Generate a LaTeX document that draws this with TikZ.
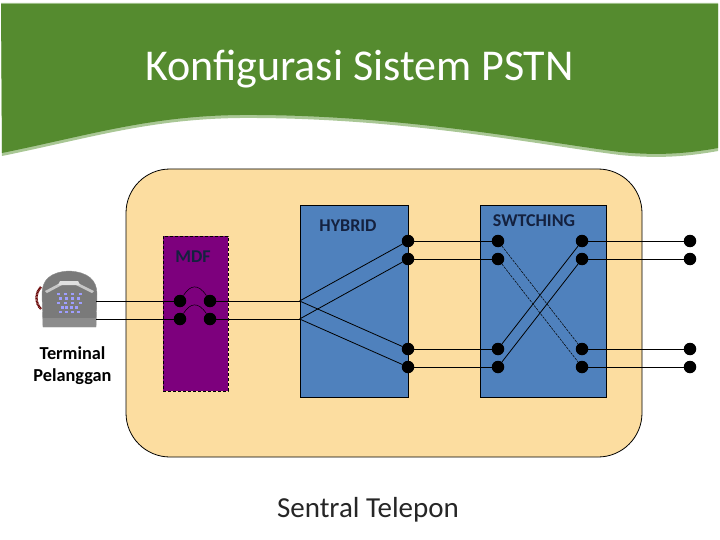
\documentclass[tikz,border=0pt]{standalone}
\usepackage{fontspec}
\setmainfont{Carlito}
\usepackage{xcolor}
\usetikzlibrary{calc}
\definecolor{hijau}{HTML}{558B2F}
\definecolor{hijaumuda}{HTML}{A9C795}
\definecolor{krem}{HTML}{FCDDA0}
\definecolor{ungu}{HTML}{7D007D}
\definecolor{biru}{HTML}{4F81BD}
\definecolor{tinta}{HTML}{14213F}
\begin{document}
\begin{tikzpicture}[
  x=1pt, y=-1pt,
  blok/.style={draw=black, line width=0.8pt, fill=biru, minimum height=192pt, inner sep=0pt},
  titik/.style={circle, fill=black, minimum size=12.5pt, inner sep=0pt},
  kabel/.style={draw=black, line width=0.8pt},
  silang/.style={draw=black, line width=0.5pt, dashed, dash pattern=on 2.5pt off 1pt},
  label/.style={font=\bfseries\fontsize{18}{18}\selectfont, text=tinta, inner sep=0pt, anchor=base},
  keterangan/.style={font=\bfseries\fontsize{18.3}{22}\selectfont, align=center, inner sep=0pt},
]
  \useasboundingbox (0,0) rectangle (720,540);

  % banner
  \fill[hijaumuda] (1,3) -- (718,3) -- (718,151)
    .. controls (680,158) and (650,158) .. (620,155)
    .. controls (540,145) and (400,117) .. (240,118)
    .. controls (150,119) and (90,138) .. (2,156) -- cycle;
  \fill[hijau] (1,4) -- (718,4) -- (718,148)
    .. controls (680,155) and (650,155) .. (620,152)
    .. controls (540,142) and (400,114) .. (240,115)
    .. controls (150,116) and (90,135) .. (2,153) -- cycle;
  \node[font=\fontsize{44}{44}\selectfont, text=white, inner sep=0pt, anchor=base] (judul) at (359.5,81) {Konfigurasi Sistem PSTN};

  % sentral
  \draw[fill=krem, line width=0.8pt, rounded corners=44pt] (126,169) rectangle (642,457);
  \node[font=\fontsize{29}{29}\selectfont, inner sep=0pt, text=black!85, anchor=base] (sentral) at (368,517) {Sentral Telepon};

  % blok
  \node[draw=black, densely dashed, line width=0.6pt, fill=ungu, minimum width=65pt, minimum height=155pt, inner sep=0pt]
    (mdf) at (195.5,313.5) {};
  \node[blok, minimum width=108pt] (hybrid) at (354,301) {};
  \node[blok, minimum width=126pt] (swt) at (543,301) {};
  \node[label] (lmdf) at (193,262.5) {MDF};
  \node[label] (lhybrid) at (348,232) {HYBRID};
  \node[label] (lswt) at (534,226) {SWTCHING};

  % telepon
  \fill[black!52, draw=black!45] (42,294) .. controls (42,280) and (50,272) .. (69,271)
    .. controls (88,272) and (97,280) .. (97,294) -- (96,327) -- (43,327) -- cycle;
  \fill[black!45] (43,318) -- (96,318) -- (96,327) -- (43,327) -- cycle;
  \fill[black!22] (45,291) -- (60,283) -- (62,285) -- (47,293) -- cycle;
  \fill[black!22] (94,291) -- (78,283) -- (76,285) -- (92,293) -- cycle;
  \fill[black!12] (58,285) -- (60,281) -- (78,281) -- (80,285) -- cycle;
  \draw[draw=red!40!black, line width=2.4pt, dash pattern=on 1pt off 0.5pt] (41,287) .. controls (35,293) and (35,303) .. (41,309);
  \foreach \yy/\xa/\xb in {294/58/80, 298.5/60/78, 303/58/80, 307.5/62/76, 312/60/78}
    \foreach \xx in {0,1,2,3}
      \fill[blue!38!white] ({\xa+(\xb-\xa)*\xx/3-1.5},\yy-1.2) rectangle +(3,2.4);

  \coordinate (tel1) at (96,301);
  \coordinate (tel2) at (96,319);
  \coordinate (hyb1) at (hybrid.west |- tel1);
  \coordinate (hyb2) at (hybrid.west |- tel2);

  % titik sambung
  \node[titik] (m1) at (180,301) {};
  \node[titik] (m2) at (180,319) {};
  \node[titik] (m3) at (210,301) {};
  \node[titik] (m4) at (210,319) {};
  \foreach \nama/\xx in {h/408, a/498, b/582, c/690} {
    \node[titik] (\nama1) at (\xx,241) {};
    \node[titik] (\nama2) at (\xx,259) {};
    \node[titik] (\nama3) at (\xx,349) {};
    \node[titik] (\nama4) at (\xx,367) {};
  }

  % kabel
  \draw[kabel] (tel1) -- (m1);
  \draw[kabel] (tel2) -- (m2);
  \draw[kabel] (m3) -- (hyb1);
  \draw[kabel] (m4) -- (hyb2);
  \draw[line width=0.5pt] (m1) .. controls (190,285) and (198,283) .. (m3);
  \draw[line width=0.5pt] (m2) .. controls (190,303) and (198,301) .. (m4);
  \draw[kabel] (hyb1) -- (h1);
  \draw[kabel] (hyb2) -- (h2);
  \draw[kabel] (hyb1) -- (h3);
  \draw[kabel] (hyb2) -- (h4);
  \foreach \i in {1,2,3,4} {
    \draw[kabel] (h\i) -- (a\i);
    \draw[kabel] (b\i) -- (c\i);
  }
  \draw[kabel] (a3) -- (b1);
  \draw[kabel] (a4) -- (b2);
  \draw[silang] (a1) -- (b3);
  \draw[silang] (a2) -- (b4);

  \node[keterangan] (terminal) at (72.5,366) {Terminal\\Pelanggan};
\end{tikzpicture}
\end{document}
